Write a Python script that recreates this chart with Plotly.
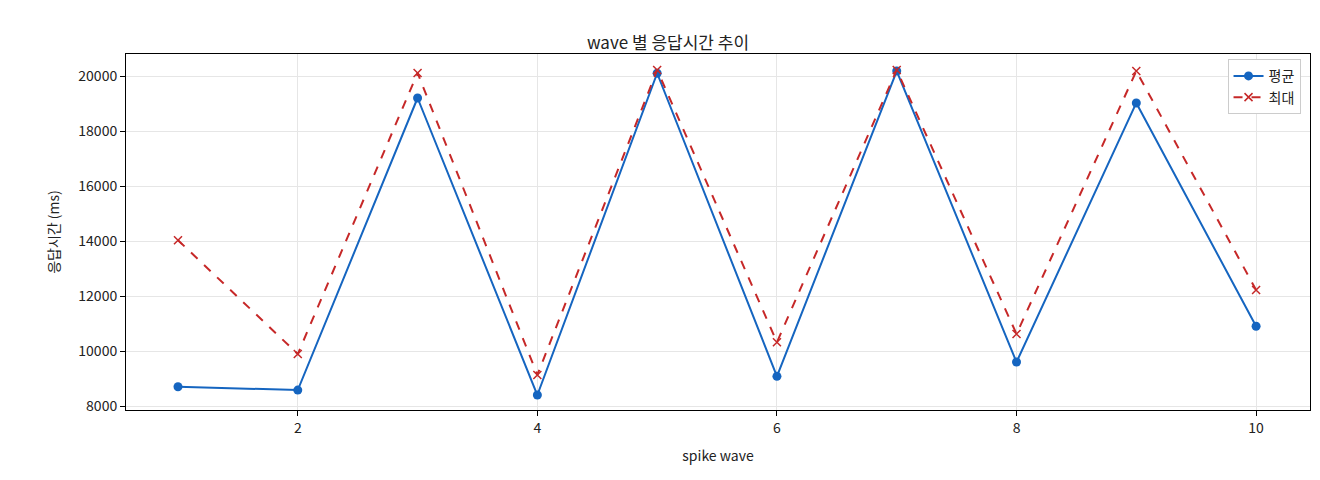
import plotly.graph_objects as go

waves = [1, 2, 3, 4, 5, 6, 7, 8, 9, 10]
avg_ms = [8700, 8580, 19200, 8400, 20100, 9080, 20180, 9600, 19020, 10900]
max_ms = [14030, 9890, 20110, 9130, 20220, 10320, 20220, 10620, 20180, 12220]

fig = go.Figure()
fig.add_trace(go.Scatter(x=waves, y=avg_ms, name="평균", mode="lines+markers",
                         line=dict(color="#1565c0", width=2), marker=dict(size=9, color="#1565c0")))
fig.add_trace(go.Scatter(x=waves, y=max_ms, name="최대", mode="lines+markers",
                         line=dict(color="#c62828", width=2, dash="dash"),
                         marker=dict(symbol="x-thin", size=8, line=dict(color="#c62828", width=1.5))))
fig.update_layout(
    width=1320, height=480, paper_bgcolor="white", plot_bgcolor="white",
    font=dict(family="Noto Sans CJK KR", size=14, color="#222"),
    title=dict(text="wave 별 응답시간 추이", x=0.5, xanchor="center", y=0.94, font=dict(size=17)),
    margin=dict(l=118, r=18, t=46, b=78, autoexpand=False),
    legend=dict(x=0.992, y=0.985, xanchor="right", yanchor="top", bordercolor="#ccc", borderwidth=1,
                bgcolor="white", font=dict(size=14)),
)
axis = dict(showline=True, linecolor="black", mirror=True, gridcolor="#e6e6e6", ticks="outside",
            ticklen=5, tickcolor="black", zeroline=False, automargin=False)
fig.update_xaxes(**axis, range=[0.566, 10.45], tickvals=[2, 4, 6, 8, 10],
                 title=dict(text="spike wave", font=dict(size=14)))
fig.update_yaxes(**axis, range=[7855, 20800], tickvals=list(range(8000, 20001, 2000)),
                 tickformat="d", title=dict(text="응답시간 (ms)", font=dict(size=14)))
fig.write_html("out.html")
